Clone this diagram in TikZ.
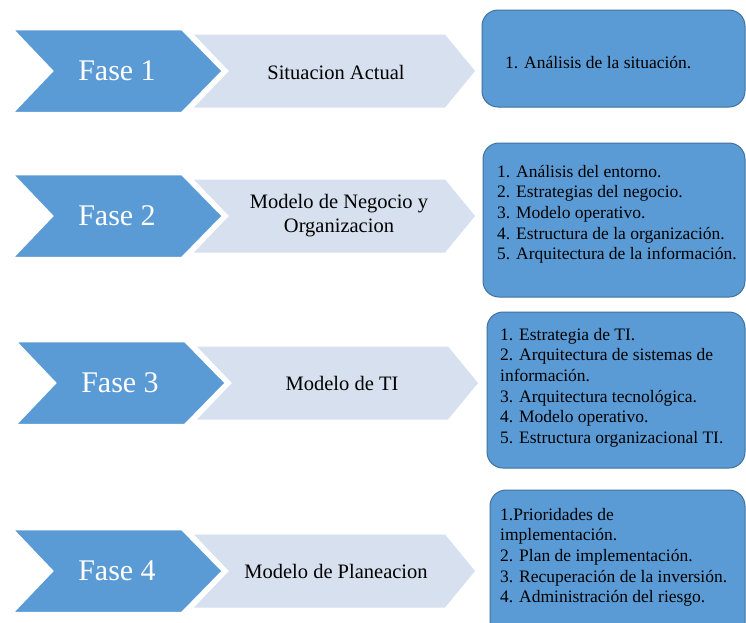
\documentclass[tikz,border=0pt]{standalone}
\usepackage{fontspec}
\setmainfont{Liberation Serif}
\newfontfamily\tnrfont{Liberation Serif}
\definecolor{fasedark}{HTML}{5B9BD5}
\definecolor{faselight}{HTML}{D6E0EE}
\definecolor{boxfill}{HTML}{5B9BD5}
\definecolor{boxline}{HTML}{41719C}
\tikzset{
  darkchev/.style={fill=fasedark, draw=white, line width=2.5pt, line join=miter},
  lightchev/.style={fill=faselight, draw=none},
  fasetext/.style={text=white, font=\tnrfont\fontsize{30}{34}\selectfont, inner sep=0pt},
  phasetext/.style={text=black, font=\tnrfont\fontsize{20.5}{24}\selectfont, align=center, inner sep=0pt},
  itembox/.style={fill=boxfill, draw=boxline, line width=1pt, rounded corners=16pt},
  itemtext/.style={text=black, font=\tnrfont\fontsize{17.5}{20.6}\selectfont, align=left, inner sep=0pt},
}
% #1 x offset, #2 y middle
\newcommand{\chevrow}[2]{%
  \fill[lightchev] (#1+182,#2-36.5) -- (#1+433,#2-36.5) -- (#1+463,#2) -- (#1+433,#2+36.5)
      -- (#1+182,#2+36.5) -- (#1+217,#2) -- cycle;
  \filldraw[darkchev] (#1,#2-42) -- (#1+170,#2-42) -- (#1+211,#2) -- (#1+170,#2+42)
      -- (#1,#2+42) -- (#1+40,#2) -- cycle;
}
\begin{document}
\begin{tikzpicture}[x=1pt,y=-1pt]
\useasboundingbox (0,0) rectangle (746,622);
\fill[white] (0,0) rectangle (746,622);

% Row 1
\chevrow{12}{71}
\node[fasetext] (f1) at (117,71) {Fase 1};
\node[phasetext] (p1) at (336,72) {Situacion Actual};
\draw[itembox] (482,10) rectangle (745,107);
\node[itemtext, anchor=base west] (b1) at (505,68) {1. Análisis de la situación.};

% Row 2
\chevrow{12}{216}
\node[fasetext] (f2) at (117,216) {Fase 2};
\node[phasetext] (p2) at (339,216) {Modelo de Negocio y\\Organizacion};
\draw[itembox] (483,143) rectangle (745,297);
\node[itemtext, anchor=north west] (b2) at (497,165) {1. Análisis del entorno.\\2. Estrategias del negocio.\\3. Modelo operativo.\\4. Estructura de la organización.\\5. Arquitectura de la información.};

% Row 3
\chevrow{15}{383}
\node[fasetext] (f3) at (120,383) {Fase 3};
\node[phasetext] (p3) at (342,383) {Modelo de TI};
\draw[itembox] (487,312) rectangle (745,468);
\node[itemtext, anchor=north west] (b3) at (500,328) {1. Estrategia de TI.\\2. Arquitectura de sistemas de\\información.\\3. Arquitectura tecnológica.\\4. Modelo operativo.\\5. Estructura organizacional TI.};

% Row 4
\chevrow{12}{571}
\node[fasetext] (f4) at (117,571) {Fase 4};
\node[phasetext] (p4) at (336,571) {Modelo de Planeacion};
\draw[itembox] (490,490) rectangle (745,650);
\node[itemtext, anchor=north west] (b4) at (500,508) {1.Prioridades de\\implementación.\\2. Plan de implementación.\\3. Recuperación de la inversión.\\4. Administración del riesgo.};
\end{tikzpicture}
\end{document}
